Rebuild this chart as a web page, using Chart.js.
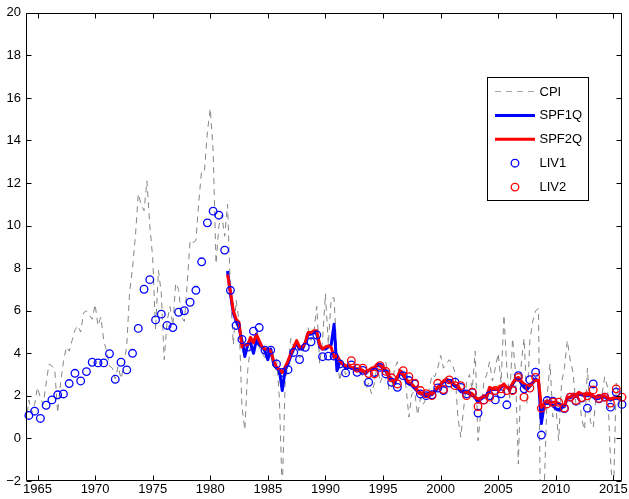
<!DOCTYPE html>
<html>
<head>
<meta charset="utf-8">
<script src="https://cdn.jsdelivr.net/npm/chart.js@4.4.1/dist/chart.umd.min.js"></script>
<style>
  html, body { margin: 0; padding: 0; background: #fff; }
  #wrap { width: 629px; height: 499px; }
</style>
</head>
<body>
<div id="wrap"><canvas id="c" width="629" height="499"></canvas></div>
<script>
// Quarterly CPI inflation, annualised %, 1964Q1 - 2015Q4
const cpiStart = 1964;
const cpi = [
  0.7, 1.8, 1.2, 1.6,   2.4, 1.9, 1.6, 2.6,   3.5, 3.4, 3.2, 1.2,   2.6, 3.6, 4.3, 4.1,
  4.6, 5.1, 5.3, 5.0,   5.9, 6.0, 5.8, 5.6,   6.3, 5.3, 5.7, 4.6,   4.1, 3.4, 3.3, 2.8,
  3.4, 2.8, 3.4, 4.4,   6.9, 8.0, 9.5, 11.5,  11.0, 10.7, 12.1, 10.0, 8.5, 5.1, 7.9, 6.8,
  3.7, 5.5, 6.2, 5.3,   7.3, 7.0, 5.7, 5.5,   7.3, 9.3, 9.2, 9.3,   11.1, 12.6, 12.6, 14.4,
  15.5, 13.5, 8.2, 10.0, 10.5, 9.5, 11.0, 6.9, 4.4, 6.5, 5.5, 1.5,  0.4, 3.2, 4.4, 4.7,
  4.7, 4.3, 4.0, 3.8,   3.8, 4.3, 3.5, 3.8,   1.9, -2.6, 2.7, 3.4,  4.7, 4.3, 4.5, 3.8,
  3.9, 4.7, 5.2, 4.6,   5.0, 6.2, 3.5, 4.6,   6.8, 4.4, 6.6, 6.6,   3.8, 2.7, 3.5, 3.0,
  3.2, 3.5, 3.3, 3.5,   3.2, 2.9, 2.3, 2.6,   2.1, 2.6, 3.5, 2.6,   3.0, 3.6, 2.3, 2.3,
  3.3, 3.6, 2.6, 3.3,   2.4, 1.0, 2.1, 2.2,   1.1, 1.9, 1.6, 1.9,   2.25, 3.0, 2.9, 3.3,
  3.9, 3.3, 3.5, 3.7,   3.5, 3.1, 1.0, 0.06,  1.4, 2.6, 3.0, 2.3,   4.1, -0.1, 1.3, 2.6,
  3.0, 3.6, 2.7, 3.3,   4.0, 2.6, 5.8, 3.3,   1.9, 4.7, 3.1, -1.2,  3.5, 4.7, 1.6, 4.6,
  5.5, 6.0, 6.1, -8.9,  -2.3, 2.0, 3.5, 1.0,  1.5, -0.1, 2.6, 3.3,  4.6, 3.7, 3.1, 1.6,
  2.1, 0.9, 0.4, 3.3,   0.8, 0.5, 2.0, 1.8,   2.0, 2.9, 2.4, -1.0,  -2.9, 2.6, 1.8, 1.0
];

// SPF one-quarter-ahead forecasts, 1981Q3 - 2015Q4
const spfStart = 1981.5;
const spf1q = [
  7.87, 6.8,
  5.9, 5.5, 5.2, 4.6,   3.85, 4.4, 4.5, 4.0,  4.6, 4.4, 4.3, 4.1,   3.7, 4.2, 3.5, 3.3,
  3.2, 2.25, 3.2, 3.5,  3.9, 4.2, 4.5, 4.2,   4.2, 4.5, 4.9, 4.9,   5.0, 4.9, 4.3, 4.2,
  4.2, 4.3, 4.4, 5.37,  3.18, 3.6, 3.5, 3.3,  3.35, 3.3, 3.25, 3.2, 3.2, 3.15, 3.05, 3.2,
  3.25, 3.3, 3.45, 3.4, 3.3, 3.15, 2.9, 2.75, 2.6, 2.85, 3.1, 2.95, 2.75, 2.55, 2.5, 2.35,
  2.2, 2.1, 2.05, 2.0,  2.05, 2.05, 2.2, 2.35, 2.5, 2.65, 2.75, 2.65, 2.6, 2.45, 2.4, 2.2,
  2.15, 2.15, 2.1, 2.05, 1.9, 1.7, 1.85, 1.95, 1.95, 2.3, 2.3, 2.3, 2.3, 2.4, 2.5, 2.4,
  2.3, 2.55, 2.75, 2.8, 2.6, 2.4, 2.3, 2.45,  2.6, 2.8, 2.7, 0.7,  1.6, 1.75, 1.6, 1.55,
  1.4, 1.35, 1.45, 1.5, 1.9, 1.9, 2.05, 2.0,  2.1, 2.05, 2.0, 2.0,  2.05, 1.95, 1.85, 1.9,
  1.95, 1.95, 1.85, 1.8, 1.85, 1.9, 1.85, 1.9
];
// SPF two-quarter-ahead forecasts, 1981Q3 - 2015Q4
const spf2q = [
  7.7, 6.9,
  6.0, 5.6, 5.45, 4.3,  4.4, 4.4, 4.75, 4.5,  4.9, 4.6, 4.3, 4.2,   4.2, 4.1, 3.65, 3.35,
  3.25, 3.1, 3.35, 3.65, 4.0, 4.3, 4.6, 4.3,  4.3, 4.5, 4.98, 4.98, 5.06, 5.06, 4.4, 4.2,
  4.3, 4.35, 4.28, 3.81, 3.9, 3.65, 3.5, 3.42, 3.4, 3.34, 3.3, 3.26, 3.26, 3.2, 3.1, 3.2,
  3.3, 3.34, 3.5, 3.45, 3.34, 3.2, 2.95, 2.8, 2.64, 2.9, 3.18, 3.0, 2.8, 2.6, 2.56, 2.4,
  2.25, 2.15, 2.09, 2.09, 2.09, 2.09, 2.25, 2.4, 2.56, 2.7, 2.8, 2.7, 2.64, 2.5, 2.48, 2.25,
  2.2, 2.17, 2.17, 2.1, 1.93, 1.86, 1.9, 2.0,  2.0, 2.4, 2.35, 2.32,  2.32, 2.45, 2.56, 2.4,
  2.32, 2.6, 2.8, 2.87, 2.7, 2.56, 2.48, 2.48, 2.64, 2.72, 2.72, 1.47, 1.6, 1.7, 1.7, 1.7,
  1.7, 1.65, 1.55, 1.55, 1.93, 1.95, 2.09, 2.05, 2.17, 2.1, 2.09, 2.05, 2.09, 2.0, 1.93, 1.95,
  2.0, 2.0, 1.9, 1.86,  1.9, 1.93, 1.9, 1.93
];

// Livingston survey, semi-annual
const liv1Start = 1964.25;
const liv1 = [
  1.08, 1.28, 0.94, 1.56, 1.81, 2.05, 2.09, 2.58, 3.06, 2.7,  3.14, 3.58, 3.55, 3.55,
  3.98, 2.78, 3.58, 3.22, 4.0, 5.17,  7.01, 7.46, 5.57, 5.84, 5.31, 5.21, 5.93, 6.0,
  6.4, 6.96,  8.3, 10.13, 10.68, 10.49, 8.85, 6.96, 5.31, 4.65, 4.29, 5.04, 5.21, 4.15,
  4.15, 3.5,  3.1, 3.23, 4.04, 3.71, 4.28, 4.54, 4.86, 3.84, 3.87, 3.87, 3.5, 3.08,
  3.45, 3.11, 3.2, 2.64, 3.1, 3.34,  3.03, 2.64, 2.4, 2.95,  2.72, 2.56, 2.09, 2.01,
  2.05, 2.37, 2.25, 2.6, 2.64, 2.4,  2.09, 2.15, 1.19, 1.81, 2.01, 1.81, 2.1, 1.58,
  2.28, 2.95, 2.33, 2.76, 3.11, 0.16, 1.78, 1.75, 1.47, 1.4,  1.94, 1.75, 1.9, 1.42,
  2.56, 1.86, 1.94, 1.47, 2.17, 1.6
];
const liv2Start = 1992.25;
const liv2 = [
  3.65, 3.3,  3.3, 3.05, 3.03, 3.42, 3.15, 2.85, 2.56, 3.18, 2.9, 2.6,  2.25, 2.1,
  2.01, 2.59, 2.3, 2.75, 2.48, 2.48, 2.01, 2.17, 1.5, 1.8,   1.94, 2.25, 2.33, 2.25,
  2.25, 2.87, 1.94, 2.37, 2.87, 1.42, 1.62, 1.7,  1.7, 1.43, 1.94, 1.78, 1.92, 2.0,
  2.28, 1.88, 1.94, 1.66, 2.33, 1.94
];

const xTicks = [1965, 1970, 1975, 1980, 1985, 1990, 1995, 2000, 2005, 2010, 2015];
const yTicks = [-2, 0, 2, 4, 6, 8, 10, 12, 14, 16, 18, 20];

const quarterly = (start, vals) => vals.map((v, i) => ({ x: start + i * 0.25, y: v }));
const semiannual = (start, vals) => vals.map((v, i) => ({ x: start + i * 0.5, y: v }));

Chart.defaults.font.family = '"Liberation Sans", Arial, Helvetica, sans-serif';
Chart.defaults.font.size = 13;
Chart.defaults.color = '#000';

// Box around the plot with inward tick marks on all four sides
const frame = {
  id: 'frame',
  afterDatasetsDraw(chart) {
    const { ctx, chartArea: a, scales: { x, y } } = chart;
    const L = Math.round(a.left) + 0.5, R = Math.round(a.right) - 0.5;
    const T = Math.round(a.top) + 0.5, B = Math.round(a.bottom) - 0.5;
    const len = 5;
    ctx.save();
    ctx.strokeStyle = '#000';
    ctx.lineWidth = 1;
    ctx.beginPath();
    ctx.rect(L, T, R - L, B - T);
    xTicks.forEach(v => {
      const px = Math.round(x.getPixelForValue(v)) + 0.5;
      ctx.moveTo(px, B); ctx.lineTo(px, B - len);
      ctx.moveTo(px, T); ctx.lineTo(px, T + len);
    });
    yTicks.forEach(v => {
      const py = Math.round(y.getPixelForValue(v)) + 0.5;
      ctx.moveTo(L, py); ctx.lineTo(L + len, py);
      ctx.moveTo(R, py); ctx.lineTo(R - len, py);
    });
    ctx.stroke();
    ctx.restore();
  }
};

// Boxed legend inside the upper right of the plot
const boxLegend = {
  id: 'boxLegend',
  afterDraw(chart) {
    const { ctx } = chart;
    const bx = 487.5, by = 77.5, bw = 101, bh = 123;
    ctx.save();
    ctx.fillStyle = '#fff';
    ctx.fillRect(bx, by, bw, bh);
    ctx.strokeStyle = '#000';
    ctx.lineWidth = 1;
    ctx.strokeRect(bx, by, bw, bh);
    ctx.font = '13px "Liberation Sans", Arial, sans-serif';
    ctx.textBaseline = 'middle';
    ctx.textAlign = 'left';
    chart.data.datasets.forEach((ds, i) => {
      const yy = 91.5 + i * 23.9;
      if (ds.showLine === false) {
        ctx.beginPath();
        ctx.arc(515, yy, ds.pointRadius, 0, Math.PI * 2);
        ctx.strokeStyle = ds.pointBorderColor;
        ctx.lineWidth = ds.pointBorderWidth;
        ctx.stroke();
      } else {
        ctx.beginPath();
        ctx.setLineDash(ds.borderDash || []);
        ctx.strokeStyle = ds.legendColor || ds.borderColor;
        ctx.lineWidth = ds.borderWidth;
        ctx.moveTo(495, yy);
        ctx.lineTo(535, yy);
        ctx.stroke();
        ctx.setLineDash([]);
      }
      ctx.fillStyle = '#000';
      ctx.fillText(ds.label, 539.5, yy + 0.5);
    });
    ctx.restore();
  }
};

new Chart(document.getElementById('c'), {
  type: 'line',
  data: {
    datasets: [
      {
        label: 'CPI', data: quarterly(cpiStart, cpi),
        borderColor: '#858585', legendColor: '#a8a8a8', borderWidth: 1, borderDash: [6, 5],
        pointRadius: 0, tension: 0, clip: 0, order: 5
      },
      {
        label: 'SPF1Q', data: quarterly(spfStart, spf1q),
        borderColor: '#0000ff', borderWidth: 3, pointRadius: 0, tension: 0, order: 4,
        borderJoinStyle: 'round'
      },
      {
        label: 'SPF2Q', data: quarterly(spfStart, spf2q),
        borderColor: '#ff0000', borderWidth: 3, pointRadius: 0, tension: 0, order: 3,
        borderJoinStyle: 'round'
      },
      {
        label: 'LIV1', data: semiannual(liv1Start, liv1), showLine: false,
        pointStyle: 'circle', pointRadius: 3.8, pointBorderWidth: 1.3,
        pointBorderColor: '#0000ff', pointBackgroundColor: 'rgba(0,0,0,0)',
        borderColor: '#0000ff', clip: false, order: 2
      },
      {
        label: 'LIV2', data: semiannual(liv2Start, liv2), showLine: false,
        pointStyle: 'circle', pointRadius: 3.8, pointBorderWidth: 1.3,
        pointBorderColor: '#ff0000', pointBackgroundColor: 'rgba(0,0,0,0)',
        borderColor: '#ff0000', clip: false, order: 1
      }
    ]
  },
  options: {
    responsive: false,
    animation: false,
    devicePixelRatio: 1,
    layout: { padding: { left: 0, top: 11, right: 7, bottom: 0 } },
    plugins: { legend: { display: false }, tooltip: { enabled: false } },
    scales: {
      x: {
        type: 'linear', min: 1964, max: 2015.75,
        grid: { display: false, drawTicks: false },
        border: { display: false },
        afterBuildTicks: s => { s.ticks = xTicks.map(v => ({ value: v })); },
        afterFit: s => { s.height = 18; },
        ticks: { autoSkip: false, maxRotation: 0, padding: 1, callback: v => String(v) }
      },
      y: {
        type: 'linear', min: -2, max: 20,
        grid: { display: false, drawTicks: false },
        border: { display: false },
        afterBuildTicks: s => { s.ticks = yTicks.map(v => ({ value: v })); },
        afterFit: s => { s.width = 26; },
        ticks: { padding: 5, callback: v => (v < 0 ? '\u2212' + Math.abs(v) : String(v)) }
      }
    }
  },
  plugins: [frame, boxLegend]
});
</script>
</body>
</html>
